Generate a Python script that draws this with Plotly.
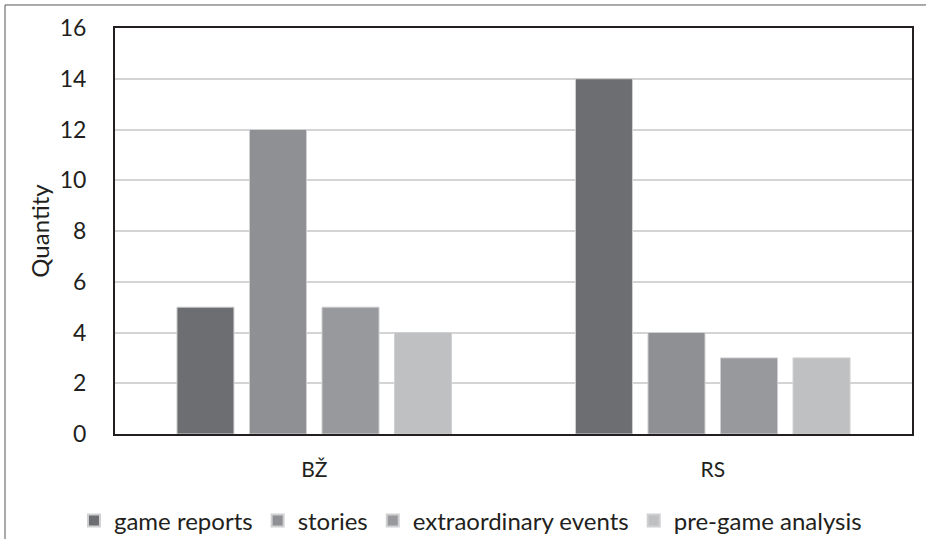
import plotly.graph_objects as go

categories = ["BŽ", "RS"]
series_names = ["game reports", "stories", "extraordinary events", "pre-game analysis"]
game_reports = [5, 14]
stories = [12, 4]
extraordinary_events = [5, 3]
pre_game_analysis = [4, 3]
y_ticks = [0, 2, 4, 6, 8, 10, 12, 14, 16]
colors = ["#6d6e71", "#8f9094", "#98999c", "#bfc0c2"]

series_values = [game_reports, stories, extraordinary_events, pre_game_analysis]

FONT = "Lato, Carlito, 'Open Sans', sans-serif"

fig = go.Figure()
for name, vals, col in zip(series_names, series_values, colors):
    fig.add_trace(go.Bar(
        x=categories, y=vals, name=name,
        marker=dict(color=col, line=dict(color="#d0d0d2", width=1)),
    ))

fig.update_layout(
    width=926, height=539,
    margin=dict(l=115, r=14, t=28, b=105, autoexpand=False),
    paper_bgcolor="white", plot_bgcolor="white",
    barmode="group", bargap=0.272, bargroupgap=0.214,
    font=dict(family=FONT, size=21, color="#231f20"),
    showlegend=True,
    legend=dict(orientation="h", x=0.446, xanchor="center", y=-0.214, yanchor="middle",
                font=dict(size=24), itemwidth=30, traceorder="normal",
                itemsizing="constant", tracegroupgap=0),
    xaxis=dict(showline=True, linecolor="#231f20", linewidth=2, mirror=True,
               showgrid=False, ticks="", ticklabelstandoff=16,
               tickfont=dict(size=21)),
    yaxis=dict(range=[0, 16], tickvals=y_ticks, showline=True, linecolor="#231f20",
               linewidth=2, mirror=True, showgrid=True, gridcolor="#d4d4d4", gridwidth=2,
               ticks="", ticklabelstandoff=22, tickfont=dict(size=23),
               zeroline=False,
               title=dict(text="Quantity", font=dict(size=24), standoff=3)),
)

# outer figure frame (top and left edges)
fig.add_shape(type="line", xref="paper", yref="paper", x0=-0.138, x1=1.02, y0=1.0567, y1=1.0567,
              line=dict(color="#555555", width=1))
fig.add_shape(type="line", xref="paper", yref="paper", x0=-0.138, x1=-0.138, y0=1.0567, y1=-0.27,
              line=dict(color="#555555", width=1))

fig.write_html("out.html")
